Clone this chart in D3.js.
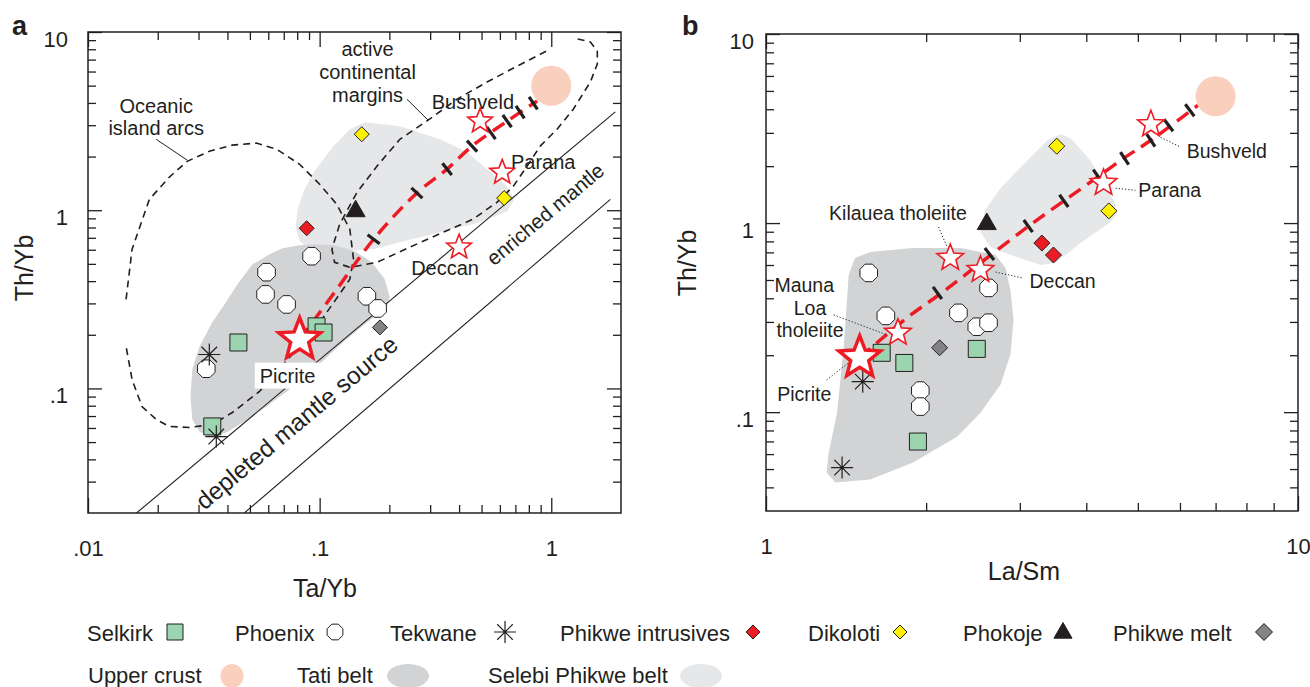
<!DOCTYPE html>
<html lang="en">
<head>
<meta charset="utf-8">
<title>Th/Yb vs Ta/Yb and La/Sm</title>
<script src="https://cdn.jsdelivr.net/npm/d3@7"></script>
<style>
body { margin: 0; background: #fff; }
svg text { font-family: "Liberation Sans", Arial, Helvetica, sans-serif; fill: #231f20; }
</style>
</head>
<body>
<script>
// ---------- panel a : Ta/Yb vs Th/Yb ----------
var selkirkA    = [[0.0446, 0.181], [0.0344, 0.0612], [0.097, 0.223], [0.104, 0.206]];
var phoenixA    = [[0.0923, 0.552], [0.059, 0.449], [0.0584, 0.337], [0.072, 0.296], [0.0324, 0.129], [0.160, 0.329], [0.178, 0.281]];
var tekwaneA    = [[0.0334, 0.155], [0.0358, 0.0537]];
var intrusiveA  = [[0.0879, 0.792]];
var dikolotiA   = [[0.152, 2.67], [0.626, 1.17]];
var phokojeA    = [[0.143, 1.0]];
var meltA       = [[0.182, 0.22]];
var crustA      = [[1.0, 5.0]];
var picriteA    = [[0.082, 0.188]];
var refStarsA   = [[0.493, 3.16], [0.614, 1.63], [0.40, 0.62]];   // Bushveld, Parana, Deccan
var mixLineA    = [[0.082, 0.188], [0.1186, 0.36], [0.171, 0.687], [0.263, 1.25], [0.355, 1.70], [0.455, 2.29], [0.645, 3.16], [0.869, 4.10]];
var mixTicksA   = [[0.171, 0.687], [0.263, 1.25], [0.355, 1.70], [0.455, 2.29], [0.55, 2.71], [0.645, 3.16], [0.734, 3.55], [0.836, 3.99]];
var tatiA       = [[0.0277, 0.0902], [0.0282, 0.128], [0.0303, 0.172], [0.0344, 0.235], [0.0388, 0.296], [0.0442, 0.384], [0.0513, 0.497],
                   [0.0608, 0.566], [0.0692, 0.612], [0.0819, 0.636], [0.097, 0.644], [0.116, 0.636], [0.142, 0.589], [0.168, 0.51],
                   [0.191, 0.41], [0.201, 0.324], [0.193, 0.278], [0.160, 0.235], [0.126, 0.181], [0.103, 0.142], [0.0741, 0.0987],
                   [0.0513, 0.0696], [0.0396, 0.0566], [0.0334, 0.0537], [0.0303, 0.0573], [0.0282, 0.067]];
var selebiA     = [[0.0787, 0.803], [0.0803, 1.01], [0.0861, 1.31], [0.0951, 1.66], [0.114, 2.26], [0.135, 2.85], [0.157, 3.12],
                   [0.222, 2.96], [0.331, 2.50], [0.433, 2.12], [0.528, 1.70], [0.645, 1.36], [0.692, 1.15], [0.645, 0.987],
                   [0.493, 0.857], [0.331, 0.752], [0.222, 0.661], [0.170, 0.604], [0.122, 0.588], [0.0905, 0.604], [0.082, 0.67]];
var arcsA       = [[0.0146, 0.316], [0.0155, 0.604], [0.0184, 1.15], [0.0224, 1.53], [0.0268, 1.88], [0.0334, 2.14], [0.0420, 2.32],
                   [0.0533, 2.38], [0.0652, 2.20], [0.0819, 1.81], [0.100, 1.40], [0.1185, 1.08], [0.135, 0.782], [0.140, 0.531],
                   [0.135, 0.41], [0.116, 0.308], [0.100, 0.235], [0.0741, 0.149], [0.055, 0.0962], [0.042, 0.0733], [0.0344, 0.0628],
                   [0.0274, 0.0604], [0.0224, 0.0612], [0.0197, 0.067], [0.0171, 0.0792], [0.0155, 0.112], [0.0146, 0.172]];
var marginsA    = [[1.30, 9.14], [1.475, 8.79], [1.58, 7.82], [1.58, 6.61], [1.475, 5.24], [1.245, 3.69], [1.06, 2.85], [0.896, 2.29],
                   [0.787, 1.77], [0.685, 1.36], [0.584, 1.11], [0.459, 0.89], [0.341, 0.752], [0.245, 0.62], [0.177, 0.51],
                   [0.135, 0.478], [0.116, 0.51], [0.113, 0.604], [0.122, 0.834], [0.145, 1.26], [0.177, 1.77], [0.222, 2.50],
                   [0.294, 3.20], [0.392, 4.20], [0.528, 5.24], [0.713, 6.44], [0.99, 8.02]];
var mantleHiA   = [[0.0162, 0.020], [1.89, 3.56]];
var mantleLoA   = [[0.0473, 0.020], [1.80, 1.15]];

// label text and anchor (data units)
var labelsA = [
  ["Oceanic", 0.0197, 3.84], ["island arcs", 0.0197, 2.89],
  ["active", 0.161, 8.02], ["continental", 0.161, 5.96], ["margins", 0.161, 4.43],
  ["Bushveld", 0.459, 4.04], ["Parana", 0.923, 1.86], ["Deccan", 0.348, 0.472]
];
var leadersA = [[[0.0197, 2.50], [0.0268, 1.91]], [[0.238, 4.2], [0.294, 3.20]]];

// ---------- panel b : La/Sm vs Th/Yb ----------
var selkirkB    = [[1.65, 0.206], [1.82, 0.182], [1.93, 0.0699], [2.49, 0.216]];
var phoenixB    = [[1.56, 0.545], [1.68, 0.323], [2.30, 0.335], [2.49, 0.283], [2.62, 0.297], [2.62, 0.454], [1.95, 0.130], [1.95, 0.107]];
var tekwaneB    = [[1.52, 0.145], [1.39, 0.0509]];
var intrusiveB  = [[3.30, 0.784], [3.47, 0.678]];
var dikolotiB   = [[3.52, 2.55], [4.41, 1.16]];
var phokojeB    = [[2.60, 1.0]];
var meltB       = [[2.12, 0.219]];
var crustB      = [[7.0, 4.68]];
var picriteB    = [[1.50, 0.194]];
var refStarsB   = [[1.77, 0.263], [2.22, 0.654], [2.53, 0.565], [4.31, 1.63], [5.29, 3.33]]; // Mauna Loa, Kilauea, Deccan, Parana, Bushveld
var mixLineB    = [[1.50, 0.194], [1.84, 0.315], [2.15, 0.432], [2.53, 0.615], [3.10, 0.953], [3.63, 1.31], [4.20, 1.75], [4.70, 2.20], [5.29, 2.74], [6.48, 4.19]];
var mixTicksB   = [[2.10, 0.427], [2.63, 0.686], [3.11, 0.964], [3.63, 1.31], [4.20, 1.78], [4.72, 2.20], [5.29, 2.74], [5.71, 3.29], [6.26, 3.95]];
var tatiB       = [[1.43, 0.532], [1.47, 0.654], [1.57, 0.703], [1.89, 0.738], [2.32, 0.738], [2.70, 0.678], [2.82, 0.579], [2.88, 0.443],
                   [2.92, 0.308], [2.88, 0.201], [2.76, 0.140], [2.53, 0.0994], [2.29, 0.0743], [1.89, 0.0541], [1.57, 0.044],
                   [1.35, 0.0425], [1.30, 0.048], [1.31, 0.0597], [1.36, 0.0994], [1.40, 0.222], [1.42, 0.392]];
var selebiB     = [[2.53, 0.896], [2.58, 1.17], [2.76, 1.53], [3.14, 2.23], [3.38, 2.74], [3.58, 2.95], [3.74, 2.81], [4.07, 2.15],
                   [4.50, 1.32], [4.58, 1.13], [4.44, 1.01], [3.90, 0.784], [3.50, 0.615], [3.28, 0.600], [2.88, 0.678], [2.64, 0.747]];
var labelsB = [
  ["Kilauea tholeiite", 1.77, 1.13], ["Mauna", 1.18, 0.471], ["Loa", 1.21, 0.356], ["tholeiite", 1.21, 0.272],
  ["Picrite", 1.18, 0.124], ["Deccan", 3.61, 0.494], ["Parana", 5.74, 1.49], ["Bushveld", 7.35, 2.40]
];
var leadersB = [[[2.11, 0.953], [2.19, 0.747]], [[1.34, 0.327], [1.69, 0.256]], [[1.30, 0.148], [1.44, 0.185]],
                [[2.70, 0.551], [3.03, 0.513]], [[4.54, 1.53], [4.95, 1.49]], [[5.52, 2.84], [6.02, 2.52]]];

// ---------- axes ----------
var xMajorA = [0.01, 0.1, 1], xMajorLabelsA = [".01", ".1", "1"];
var xMinorA = [0.02, 0.03, 0.04, 0.05, 0.06, 0.07, 0.08, 0.09, 0.2, 0.3, 0.4, 0.5, 0.6, 0.7, 0.8, 0.9];
var yMajorA = [0.1, 1, 10], yMajorLabelsA = [".1", "1", "10"];
var yMinorA = [0.03, 0.04, 0.05, 0.06, 0.07, 0.08, 0.09, 0.2, 0.3, 0.4, 0.5, 0.6, 0.7, 0.8, 0.9, 2, 3, 4, 5, 6, 7, 8, 9];
var xMajorB = [1, 10], xMajorLabelsB = ["1", "10"];
var xMinorB = [2, 3, 4, 5, 6, 7, 8, 9];
var yMajorB = [0.1, 1, 10], yMajorLabelsB = [".1", "1", "10"];
var yMinorB = [0.04, 0.05, 0.06, 0.07, 0.08, 0.09, 0.2, 0.3, 0.4, 0.5, 0.6, 0.7, 0.8, 0.9, 2, 3, 4, 5, 6, 7, 8, 9];

var legendRow1 = ["Selkirk", "Phoenix", "Tekwane", "Phikwe intrusives", "Dikoloti", "Phokoje", "Phikwe melt"];
var legendRow2 = ["Upper crust", "Tati belt", "Selebi Phikwe belt"];

// ---------- styles ----------
var INK = "#231f20", RED = "#ed1c24", GREEN = "#9dd4b0", YELLOW = "#fff200", GREY = "#808285",
    CRUST = "#f9cfbd", TATI = "#d1d3d4", SELEBI = "#e6e7e8";

var svg = d3.select("body").append("svg").attr("width", 1310).attr("height", 687);

var xA = d3.scaleLog().domain([0.01, 2]).range([88, 621]);
var yA = d3.scaleLog().domain([0.02, 10]).range([513, 32]);
var xB = d3.scaleLog().domain([1, 10]).range([766, 1298]);
var yB = d3.scaleLog().domain([0.03, 10]).range([511, 34]);

// symbol paths
function octagon(R) {
  var p = [];
  for (var k = 0; k < 8; k++) { var a = Math.PI / 8 + k * Math.PI / 4; p.push([R * Math.cos(a), R * Math.sin(a)]); }
  return "M" + p.join("L") + "Z";
}
function star(R, r) {
  var p = [];
  for (var k = 0; k < 10; k++) {
    var a = -Math.PI / 2 + k * Math.PI / 5, rr = k % 2 ? r : R;
    p.push([rr * Math.cos(a), rr * Math.sin(a)]);
  }
  return "M" + p.join("L") + "Z";
}
function diamond(s) { return "M0," + (-s) + "L" + s + ",0L0," + s + "L" + (-s) + ",0Z"; }
function square(s) { return "M" + (-s) + "," + (-s) + "H" + s + "V" + s + "H" + (-s) + "Z"; }
function triangle(s) { return "M0," + (-s) + "L" + (s * 0.95) + "," + (s * 0.65) + "L" + (-s * 0.95) + "," + (s * 0.65) + "Z"; }
function asterisk(r) {
  var a = r * 0.7071;
  return "M0," + (-r) + "V" + r + "M" + (-r) + ",0H" + r +
         "M" + (-a) + "," + (-a) + "L" + a + "," + a + "M" + (-a) + "," + a + "L" + a + "," + (-a);
}

function drawPoints(g, data, x, y, d, fill, stroke, sw) {
  g.selectAll(null).data(data).enter().append("path")
    .attr("transform", function(p) { return "translate(" + x(p[0]) + "," + y(p[1]) + ")"; })
    .attr("d", d).attr("fill", fill).attr("stroke", stroke).attr("stroke-width", sw);
}

function path(x, y, curve) {
  return d3.line().x(function(d) { return x(d[0]); }).y(function(d) { return y(d[1]); }).curve(curve || d3.curveLinear);
}

function drawMixTicks(g, line, ticks, x, y) {
  var pts = line.map(function(d) { return [x(d[0]), y(d[1])]; });
  ticks.forEach(function(t) {
    var px = x(t[0]), py = y(t[1]), i = 0;
    while (i < pts.length - 2 && pts[i + 1][0] < px) i++;
    var ang = Math.atan2(pts[i + 1][1] - pts[i][1], pts[i + 1][0] - pts[i][0]) * 180 / Math.PI;
    g.append("line").attr("x1", 0).attr("y1", -7.5).attr("x2", 0).attr("y2", 7.5)
      .attr("transform", "translate(" + px + "," + py + ") rotate(" + ang + ")")
      .attr("stroke", INK).attr("stroke-width", 3.2);
  });
}

function axisLayer(g, axis, tx, ty) {
  var a = g.append("g").attr("transform", "translate(" + tx + "," + ty + ")").call(axis);
  a.select(".domain").remove();
  a.attr("font-family", null).attr("font-size", 22);
  a.selectAll(".tick line").attr("stroke", INK).attr("stroke-width", 1.3);
  a.selectAll(".tick text").attr("fill", INK);
  return a;
}

function drawAxes(g, x, y, xMaj, xLab, xMin, yMaj, yLab, yMin, padL) {
  var x0 = x.range()[0], x1 = x.range()[1], y0 = y.range()[0], y1 = y.range()[1];
  axisLayer(g, d3.axisBottom(x).tickValues(xMin).tickSize(-8).tickFormat(""), 0, y0);
  axisLayer(g, d3.axisTop(x).tickValues(xMin).tickSize(-8).tickFormat(""), 0, y1);
  axisLayer(g, d3.axisBottom(x).tickValues(xMaj).tickSize(-15).tickPadding(27)
    .tickFormat(function(d, i) { return xLab[i]; }), 0, y0);
  axisLayer(g, d3.axisTop(x).tickValues(xMaj).tickSize(-15).tickFormat(""), 0, y1);
  axisLayer(g, d3.axisLeft(y).tickValues(yMin).tickSize(-8).tickFormat(""), x0, 0);
  axisLayer(g, d3.axisRight(y).tickValues(yMin).tickSize(-8).tickFormat(""), x1, 0);
  axisLayer(g, d3.axisLeft(y).tickValues(yMaj).tickSize(-14).tickPadding(padL)
    .tickFormat(function(d, i) { return yLab[i]; }), x0, 0)
    .selectAll(".tick text").attr("dy", "0.64em");
  axisLayer(g, d3.axisRight(y).tickValues(yMaj).tickSize(-14).tickFormat(""), x1, 0);
  g.append("rect").attr("x", x0).attr("y", y1).attr("width", x1 - x0).attr("height", y0 - y1)
    .attr("fill", "none").attr("stroke", INK).attr("stroke-width", 1.5);
}

function panel(id, x, y) {
  svg.append("clipPath").attr("id", id).append("rect")
    .attr("x", x.range()[0]).attr("y", y.range()[1])
    .attr("width", x.range()[1] - x.range()[0]).attr("height", y.range()[0] - y.range()[1]);
  return svg.append("g").attr("clip-path", "url(#" + id + ")");
}

function labels(g, list, x, y, size) {
  g.selectAll(null).data(list).enter().append("text")
    .attr("x", function(d) { return x(d[1]); }).attr("y", function(d) { return y(d[2]); })
    .attr("dy", "0.35em").attr("text-anchor", "middle").attr("font-size", size)
    .text(function(d) { return d[0]; });
}

function leaders(g, list, x, y, dash) {
  g.selectAll(null).data(list).enter().append("path")
    .attr("d", path(x, y)).attr("fill", "none").attr("stroke", INK)
    .attr("stroke-width", 1).attr("stroke-dasharray", dash);
}

// ================= panel a =================
var gA = panel("clipA", xA, yA);
var closed = d3.curveCatmullRomClosed.alpha(0.5);
gA.append("path").datum(selebiA).attr("d", path(xA, yA, closed)).attr("fill", SELEBI);
gA.append("path").datum(tatiA).attr("d", path(xA, yA, closed)).attr("fill", TATI);
[mantleHiA, mantleLoA].forEach(function(l) {
  gA.append("path").datum(l).attr("d", path(xA, yA)).attr("stroke", INK).attr("stroke-width", 1.1).attr("fill", "none");
});
[arcsA, marginsA].forEach(function(l) {
  gA.append("path").datum(l).attr("d", path(xA, yA, closed)).attr("fill", "none")
    .attr("stroke", INK).attr("stroke-width", 1.6).attr("stroke-dasharray", "7,5");
});
drawPoints(gA, crustA, xA, yA, "M-20,0a20,20 0 1,0 40,0a20,20 0 1,0 -40,0", CRUST, "none", 0);
gA.append("path").datum(mixLineA).attr("d", path(xA, yA, d3.curveCatmullRom)).attr("fill", "none")
  .attr("stroke", RED).attr("stroke-width", 3.5).attr("stroke-dasharray", "14,8");
drawMixTicks(gA, mixLineA, mixTicksA, xA, yA);

leaders(gA, leadersA, xA, yA, null);
labels(gA, labelsA, xA, yA, 20);

// mantle-array labels parallel to the lines
var angA = Math.atan2(yA(mantleHiA[1][1]) - yA(mantleHiA[0][1]), xA(mantleHiA[1][0]) - xA(mantleHiA[0][0])) * 180 / Math.PI;
gA.append("text").attr("transform", "translate(" + xA(0.942) + "," + yA(0.95) + ") rotate(" + angA + ")")
  .attr("text-anchor", "middle").attr("dy", "0.35em").attr("font-size", 20.5).text("enriched mantle");
gA.append("text").attr("transform", "translate(" + xA(0.0795) + "," + yA(0.0644) + ") rotate(" + angA + ")")
  .attr("text-anchor", "middle").attr("dy", "0.35em").attr("font-size", 24.5).text("depleted mantle source");

// picrite label with white box
var picLab = gA.append("g");
var picBg = picLab.append("rect").attr("fill", "#fff");
var picTxt = picLab.append("text").attr("x", xA(0.0727)).attr("y", yA(0.118)).attr("dy", "0.35em")
  .attr("text-anchor", "middle").attr("font-size", 20).text("Picrite");
var bb = picTxt.node().getBBox();
picBg.attr("x", bb.x - 5).attr("y", bb.y - 2).attr("width", bb.width + 10).attr("height", bb.height + 4);

drawPoints(gA, phoenixA, xA, yA, octagon(9.5), "#fff", INK, 1);
drawPoints(gA, selkirkA, xA, yA, square(8.5), GREEN, INK, 1);
drawPoints(gA, tekwaneA, xA, yA, asterisk(11), "none", INK, 1.2);
drawPoints(gA, intrusiveA, xA, yA, diamond(7.5), RED, INK, 1);
drawPoints(gA, dikolotiA, xA, yA, diamond(7.5), YELLOW, INK, 1);
drawPoints(gA, meltA, xA, yA, diamond(7.5), GREY, INK, 1);
drawPoints(gA, phokojeA, xA, yA, triangle(10), INK, INK, 1);
drawPoints(gA, refStarsA, xA, yA, star(13, 5.6), "#fff", RED, 1.6);
drawPoints(gA, picriteA, xA, yA, star(22, 9.5), "#fff", RED, 3.5);

drawAxes(svg.append("g"), xA, yA, xMajorA, xMajorLabelsA, xMinorA, yMajorA, yMajorLabelsA, yMinorA, 20);

// ================= panel b =================
var gB = panel("clipB", xB, yB);
gB.append("path").datum(selebiB).attr("d", path(xB, yB, closed)).attr("fill", SELEBI);
gB.append("path").datum(tatiB).attr("d", path(xB, yB, closed)).attr("fill", TATI);
drawPoints(gB, crustB, xB, yB, "M-20,0a20,20 0 1,0 40,0a20,20 0 1,0 -40,0", CRUST, "none", 0);
gB.append("path").datum(mixLineB).attr("d", path(xB, yB, d3.curveCatmullRom)).attr("fill", "none")
  .attr("stroke", RED).attr("stroke-width", 3.5).attr("stroke-dasharray", "14,8");
drawMixTicks(gB, mixLineB, mixTicksB, xB, yB);
leaders(gB, leadersB, xB, yB, "1.2,2");
labels(gB, labelsB, xB, yB, 19.5);

drawPoints(gB, phoenixB, xB, yB, octagon(9.5), "#fff", INK, 1);
drawPoints(gB, selkirkB, xB, yB, square(8.5), GREEN, INK, 1);
drawPoints(gB, tekwaneB, xB, yB, asterisk(11), "none", INK, 1.2);
drawPoints(gB, intrusiveB, xB, yB, diamond(8), RED, INK, 1);
drawPoints(gB, dikolotiB, xB, yB, diamond(8), YELLOW, INK, 1);
drawPoints(gB, meltB, xB, yB, diamond(8), GREY, INK, 1);
drawPoints(gB, phokojeB, xB, yB, triangle(10), INK, INK, 1);
drawPoints(gB, refStarsB, xB, yB, star(14, 6), "#fff", RED, 1.6);
drawPoints(gB, picriteB, xB, yB, star(22, 9.5), "#fff", RED, 3.5);

drawAxes(svg.append("g"), xB, yB, xMajorB, xMajorLabelsB, xMinorB, yMajorB, yMajorLabelsB, yMinorB, 12);

// ---------- titles ----------
svg.append("text").attr("x", 12).attr("y", 35).attr("font-size", 27).attr("font-weight", "bold").text("a");
svg.append("text").attr("x", 682).attr("y", 35).attr("font-size", 27).attr("font-weight", "bold").text("b");
svg.append("text").attr("x", 325).attr("y", 597).attr("text-anchor", "middle").attr("font-size", 25).text("Ta/Yb");
svg.append("text").attr("x", 1024).attr("y", 580).attr("text-anchor", "middle").attr("font-size", 25).text("La/Sm");
svg.append("text").attr("transform", "translate(33,268) rotate(-90)").attr("text-anchor", "middle").attr("font-size", 25).text("Th/Yb");
svg.append("text").attr("transform", "translate(696,263) rotate(-90)").attr("text-anchor", "middle").attr("font-size", 25).text("Th/Yb");

// ---------- legend ----------
var lg = svg.append("g").attr("font-size", 22);
var row1X = [87, 235, 390, 560, 808, 963, 1113];
var row1M = [175, 335, 505, 753, 900, 1063, 1264];
var row1Sym = [
  [square(8), GREEN, INK, 1], [octagon(8.5), "#fff", INK, 1], [asterisk(11), "none", INK, 1.2],
  [diamond(7), RED, INK, 1], [diamond(7), YELLOW, INK, 1], [triangle(9.5), INK, INK, 1], [diamond(8.5), GREY, INK, 1]
];
legendRow1.forEach(function(name, i) {
  lg.append("text").attr("x", row1X[i]).attr("y", 641).text(name);
  var s = row1Sym[i];
  lg.append("path").attr("transform", "translate(" + row1M[i] + "," + 632 + ")")
    .attr("d", s[0]).attr("fill", s[1]).attr("stroke", s[2]).attr("stroke-width", s[3]);
});
var row2X = [88, 297, 488];
var row2M = [[232, 11.5, CRUST], [408, 21, TATI], [701, 21, SELEBI]];
legendRow2.forEach(function(name, i) {
  lg.append("text").attr("x", row2X[i]).attr("y", 683).text(name);
  lg.append("ellipse").attr("cx", row2M[i][0]).attr("cy", 676).attr("rx", row2M[i][1]).attr("ry", 12).attr("fill", row2M[i][2]);
});
</script>
</body>
</html>
